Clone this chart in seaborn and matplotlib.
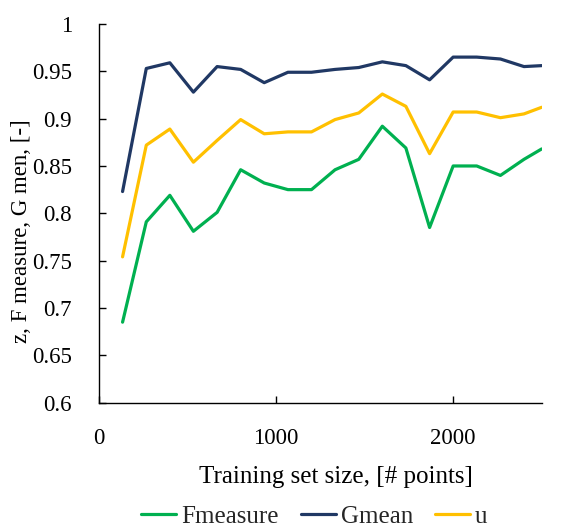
import matplotlib
matplotlib.use("Agg")
import matplotlib.pyplot as plt
import seaborn as sns
import pandas as pd

training_size = [133, 267, 400, 533, 667, 800, 933, 1067, 1200, 1333, 1467,
                 1600, 1733, 1867, 2000, 2133, 2267, 2400, 2500]
fmeasure = [0.685, 0.791, 0.819, 0.781, 0.801, 0.846, 0.832, 0.825, 0.825, 0.846,
            0.857, 0.892, 0.869, 0.785, 0.850, 0.850, 0.840, 0.857, 0.868]
gmean = [0.823, 0.953, 0.959, 0.928, 0.955, 0.952, 0.938, 0.949, 0.949, 0.952,
         0.954, 0.960, 0.956, 0.941, 0.965, 0.965, 0.963, 0.955, 0.956]
u = [0.754, 0.872, 0.889, 0.854, 0.877, 0.899, 0.884, 0.886, 0.886, 0.899,
     0.906, 0.926, 0.913, 0.863, 0.907, 0.907, 0.901, 0.905, 0.912]
series_names = ["Fmeasure", "Gmean", "u"]
colors = ["#00B050", "#203864", "#FFC000"]

df = pd.DataFrame({
    "x": training_size * 3,
    "y": fmeasure + gmean + u,
    "series": [series_names[0]] * len(fmeasure) + [series_names[1]] * len(gmean)
              + [series_names[2]] * len(u),
})

sns.set_theme(style="white")
plt.rcParams["font.family"] = ["Liberation Serif", "DejaVu Serif"]

fig = plt.figure(figsize=(5.74, 5.27), dpi=100)
ax = fig.add_axes([0.1725, 0.236, 0.7712, 0.7185])

sns.lineplot(data=df, x="x", y="y", hue="series", palette=colors,
             hue_order=series_names, linewidth=2.3, ax=ax, legend=True)

ax.set_xlim(0, 2500)
ax.set_ylim(0.6, 1.0)
ax.set_xticks([0, 1000, 2000])
ax.set_yticks([0.6, 0.65, 0.7, 0.75, 0.8, 0.85, 0.9, 0.95, 1.0])
ax.set_yticklabels(["0.6", "0.65", "0.7", "0.75", "0.8", "0.85", "0.9", "0.95", "1"])
ax.tick_params(axis="both", direction="in", length=5, width=1, labelsize=16.5,
               colors="black", left=True, bottom=True)
ax.tick_params(axis="y", pad=19.5)
ax.tick_params(axis="x", pad=18)
for side in ["top", "right"]:
    ax.spines[side].set_visible(False)
for side in ["left", "bottom"]:
    ax.spines[side].set_color("black")
    ax.spines[side].set_linewidth(1)

ax.set_xlabel("Training set size, [# points]", fontsize=18, color="black")
ax.xaxis.set_label_coords(0.535, -0.1667)
ax.set_ylabel("z, F measure, G men, [-]", fontsize=16.5, color="black")
ax.yaxis.set_label_coords(-0.151, 0.452)

handles, labels = ax.get_legend_handles_labels()
ax.legend(handles, labels, loc="center", bbox_to_anchor=(0.4866, -0.302),
          ncol=3, frameon=False, fontsize=18, handlelength=1.4,
          handletextpad=0.2, columnspacing=0.88)

fig.savefig("out.png", dpi=100)
